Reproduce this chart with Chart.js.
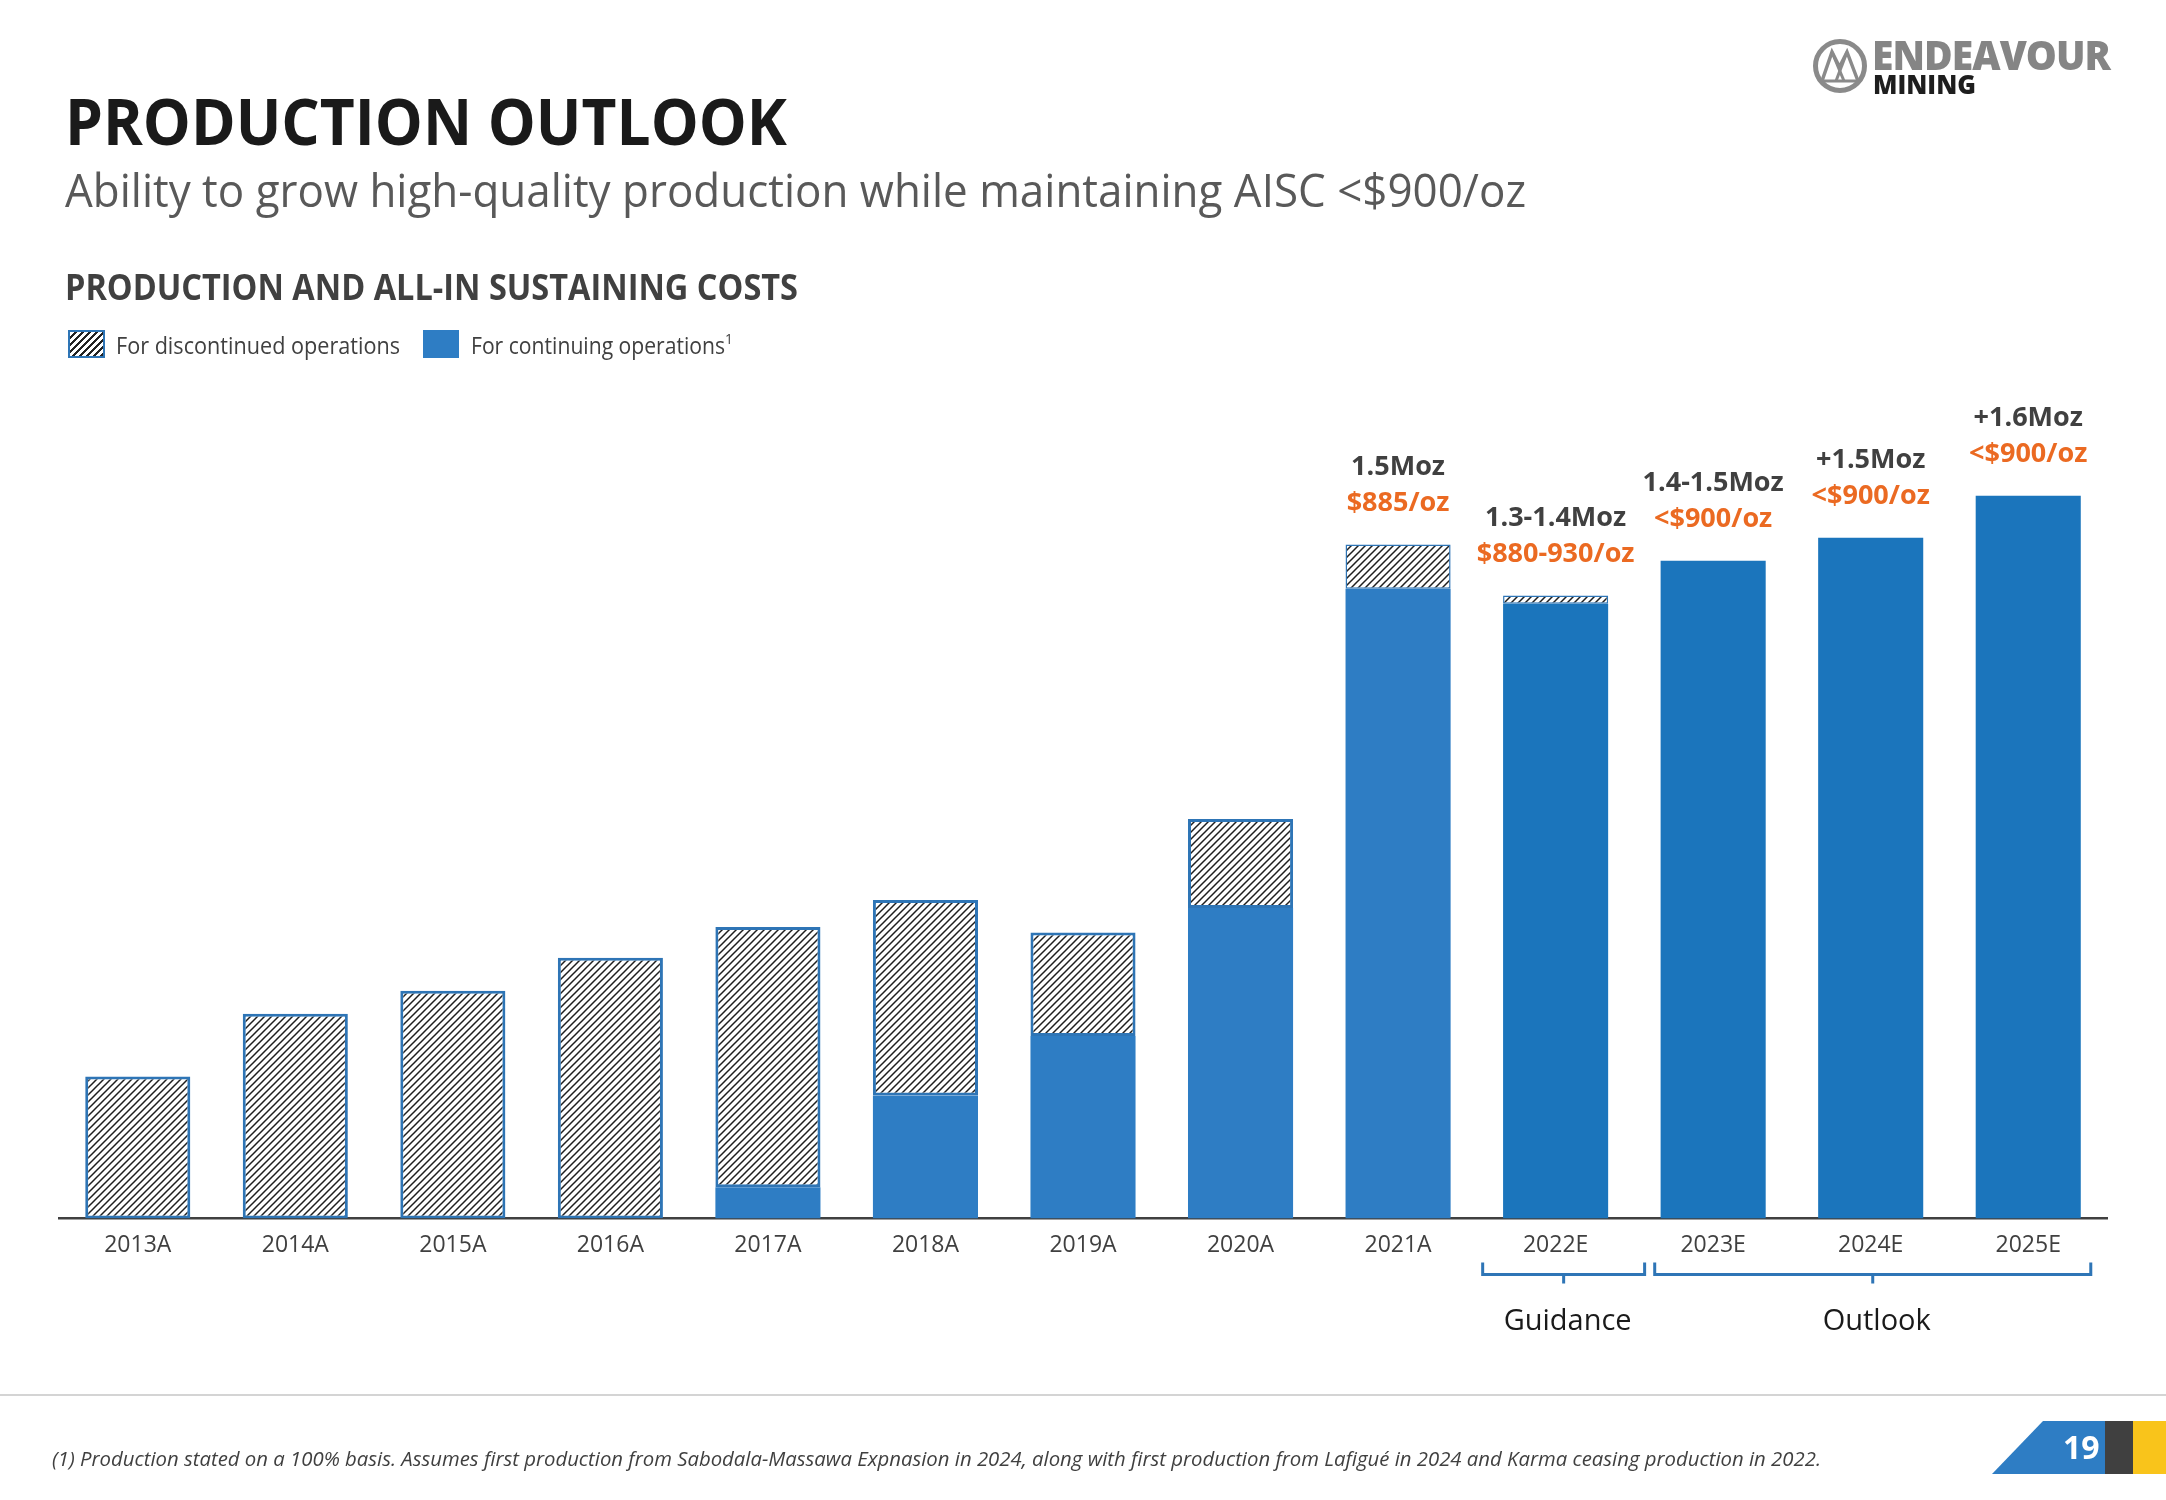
<!DOCTYPE html>
<html><head><meta charset="utf-8">
<script src="https://cdn.jsdelivr.net/npm/chart.js@4.4.1/dist/chart.umd.min.js"></script>
<style>
html,body{margin:0;padding:0;background:#fff;}
body{width:2166px;height:1500px;position:relative;overflow:hidden;font-family:"Open Sans",sans-serif;}
#c{position:absolute;left:0;top:0;}
.t{position:absolute;white-space:nowrap;line-height:1;transform-origin:0 0;}
.sw{position:absolute;box-sizing:border-box;}
</style></head><body>
<canvas id="c" width="2166" height="1500"></canvas>

<div class="t fit" data-w="722" style="left:65px;top:89px;font-size:64px;font-weight:700;color:#1a1a1a;">PRODUCTION OUTLOOK</div>
<div class="t fit" data-w="1461" style="left:65px;top:167px;font-size:45px;font-weight:400;color:#595959;">Ability to grow high-quality production while maintaining AISC &lt;$900/oz</div>
<div class="t fit" data-w="733" style="left:65px;top:269px;font-size:35px;font-weight:700;color:#404040;">PRODUCTION AND ALL-IN SUSTAINING COSTS</div>

<div class="sw" style="left:68px;top:330px;width:37px;height:28px;border:2px solid #2E75B6;background:repeating-linear-gradient(135deg,#fff 0 3px,#222 3px 5px);"></div>
<div class="t fit" data-w="284" style="left:116px;top:334px;font-size:23px;color:#404040;">For discontinued operations</div>
<div class="sw" style="left:423px;top:330px;width:36px;height:28px;background:#2E7DC4;"></div>
<div class="t fit" data-w="262" style="left:471px;top:334px;font-size:23px;color:#404040;">For continuing operations<sup style="font-size:15px;vertical-align:10px;line-height:0;">1</sup></div>

<!-- logo -->
<svg style="position:absolute;left:1810px;top:36px;" width="60" height="60" viewBox="0 0 60 60">
  <circle cx="30" cy="30" r="24.5" fill="none" stroke="#8a8a8a" stroke-width="5"/>
  <polyline points="12,45 22,16 29.5,31 37,16 48,45" fill="none" stroke="#8a8a8a" stroke-width="3.5" stroke-linejoin="miter"/>
  <polyline points="22,16 34,45" fill="none" stroke="#8a8a8a" stroke-width="3"/>
  <polyline points="37,16 26,45" fill="none" stroke="#8a8a8a" stroke-width="3"/>
  <line x1="13" y1="45" x2="47" y2="45" stroke="#8a8a8a" stroke-width="3"/>
</svg>
<div class="t fit" data-w="238" style="left:1872px;top:34px;font-size:41px;font-weight:800;color:#858585;letter-spacing:-1px;">ENDEAVOUR</div>
<div class="t fit" data-w="103" style="left:1873px;top:71px;font-size:26px;font-weight:800;color:#1e1e1e;">MINING</div>

<!-- footer -->
<div style="position:absolute;left:0;top:1394px;width:2166px;height:2px;background:#d4d4d4;"></div>
<div class="t fit" data-w="1769" style="left:52px;top:1449px;font-size:20px;font-style:italic;color:#404040;">(1) Production stated on a 100% basis. Assumes first production from Sabodala-Massawa Expnasion in 2024, along with first production from Lafigué in 2024 and Karma ceasing production in 2022.</div>
<svg style="position:absolute;left:1990px;top:1421px;" width="176" height="54" viewBox="0 0 176 54">
  <polygon points="53,0 115,0 115,53 2,53" fill="#2E7DC4"/>
  <rect x="115" y="0" width="28" height="53" fill="#404040"/>
  <rect x="143" y="0" width="33" height="53" fill="#F9C41B"/>
</svg>
<div class="t" style="left:2063px;top:1431px;font-size:32px;font-weight:700;color:#fff;">19</div>

<script>
const categories = ['2013A','2014A','2015A','2016A','2017A','2018A','2019A','2020A','2021A','2022E','2023E','2024E','2025E'];
// production in Moz
const continuingOps   = [0, 0, 0, 0, 0.069, 0.272, 0.404, 0.687, 1.394, 1.361, 1.456, 1.507, 1.600];
const discontinuedOps = [0.314, 0.453, 0.504, 0.577, 0.576, 0.433, 0.229, 0.197, 0.098, 0.018, null, null, null];
const productionLabels = ['', '', '', '', '', '', '', '', '1.5Moz', '1.3-1.4Moz', '1.4-1.5Moz', '+1.5Moz', '+1.6Moz'];
const costLabels       = ['', '', '', '', '', '', '', '', '$885/oz', '$880-930/oz', '<$900/oz', '<$900/oz', '<$900/oz'];
const groupLabels = ['Guidance', 'Outlook'];
const groupFrom = [9, 10];
const groupTo = [9, 12];

// fit text widths
document.querySelectorAll('.fit').forEach(el => {
  const w = el.getBoundingClientRect().width;
  const target = +el.dataset.w;
  if (w > 0) el.style.transform = 'scaleX(' + (target / w) + ')';
});

// hatch pattern
function makeHatch() {
  const s = 7;
  const tc = document.createElement('canvas');
  tc.width = s; tc.height = s;
  const g = tc.getContext('2d');
  g.fillStyle = '#ffffff'; g.fillRect(0, 0, s, s);
  g.strokeStyle = '#1f1f1f'; g.lineWidth = 1.5;
  g.beginPath();
  g.moveTo(-1, s + 1); g.lineTo(s + 1, -1);
  g.moveTo(-1, 1); g.lineTo(1, -1);
  g.moveTo(s - 1, s + 1); g.lineTo(s + 1, s - 1);
  g.stroke();
  return g.createPattern(tc, 'repeat');
}
const hatch = makeHatch();
const contColors = categories.map(c => c.endsWith('E') ? '#1B75BC' : '#2E7DC4');
const hatchBorders = categories.map(c => (c === '2021A' || c === '2022E') ? 1.5 : 3);

const overlay = {
  id: 'overlay',
  afterDatasetsDraw(chart) {
    const ctx = chart.ctx;
    const xs = chart.scales.x, ys = chart.scales.y;
    const step = xs.getPixelForValue(1) - xs.getPixelForValue(0);
    ctx.save();
    ctx.textAlign = 'center';
    ctx.textBaseline = 'middle';
    categories.forEach((c, i) => {
      if (!productionLabels[i]) return;
      const total = (continuingOps[i] || 0) + (discontinuedOps[i] || 0);
      const x = xs.getPixelForValue(i);
      const y = ys.getPixelForValue(total);
      ctx.font = '700 27px "Open Sans"';
      ctx.fillStyle = '#404040';
      ctx.fillText(productionLabels[i], x, y - 77);
      ctx.fillStyle = '#EB6A22';
      ctx.fillText(costLabels[i], x, y - 41);
    });
    // brackets
    const base = ys.bottom;
    const insetL = [0.463, 0.371], insetR = [0.565, 0.397];
    ctx.strokeStyle = '#2E75B6';
    ctx.lineWidth = 3;
    groupLabels.forEach((lab, k) => {
      const l = xs.getPixelForValue(groupFrom[k]) - insetL[k] * step;
      const r = xs.getPixelForValue(groupTo[k]) + insetR[k] * step;
      const m = (l + r) / 2;
      ctx.beginPath();
      ctx.moveTo(l, base + 44); ctx.lineTo(l, base + 56);
      ctx.lineTo(r, base + 56); ctx.lineTo(r, base + 44);
      ctx.moveTo(m, base + 56); ctx.lineTo(m, base + 65);
      ctx.stroke();
      ctx.font = '400 29px "Open Sans"';
      ctx.fillStyle = '#1a1a1a';
      ctx.fillText(lab, m + 4, base + 103);
    });
    ctx.restore();
  }
};

new Chart(document.getElementById('c'), {
  type: 'bar',
  data: {
    labels: categories,
    datasets: [
      { label: 'For continuing operations', data: continuingOps, backgroundColor: contColors, borderWidth: 0,
        categoryPercentage: 1, barPercentage: 0.667 },
      { label: 'For discontinued operations', data: discontinuedOps, backgroundColor: hatch, borderColor: '#2E75B6',
        borderWidth: hatchBorders, borderSkipped: false, categoryPercentage: 1, barPercentage: 0.667 }
    ]
  },
  options: {
    responsive: false,
    animation: false,
    events: [],
    layout: { padding: { left: 59, right: 59, top: 315, bottom: 228 } },
    plugins: { legend: { display: false }, tooltip: { enabled: false } },
    scales: {
      x: {
        stacked: true,
        grid: { display: true, drawOnChartArea: false, drawTicks: false },
        border: { display: true, color: '#404040', width: 2.5 },
        ticks: { color: '#404040', font: { family: 'Open Sans', size: 23 }, padding: 13, maxRotation: 0 }
      },
      y: {
        stacked: true,
        display: false,
        min: 0,
        max: 2.0
      }
    }
  },
  plugins: [overlay]
});
</script>
</body></html>
